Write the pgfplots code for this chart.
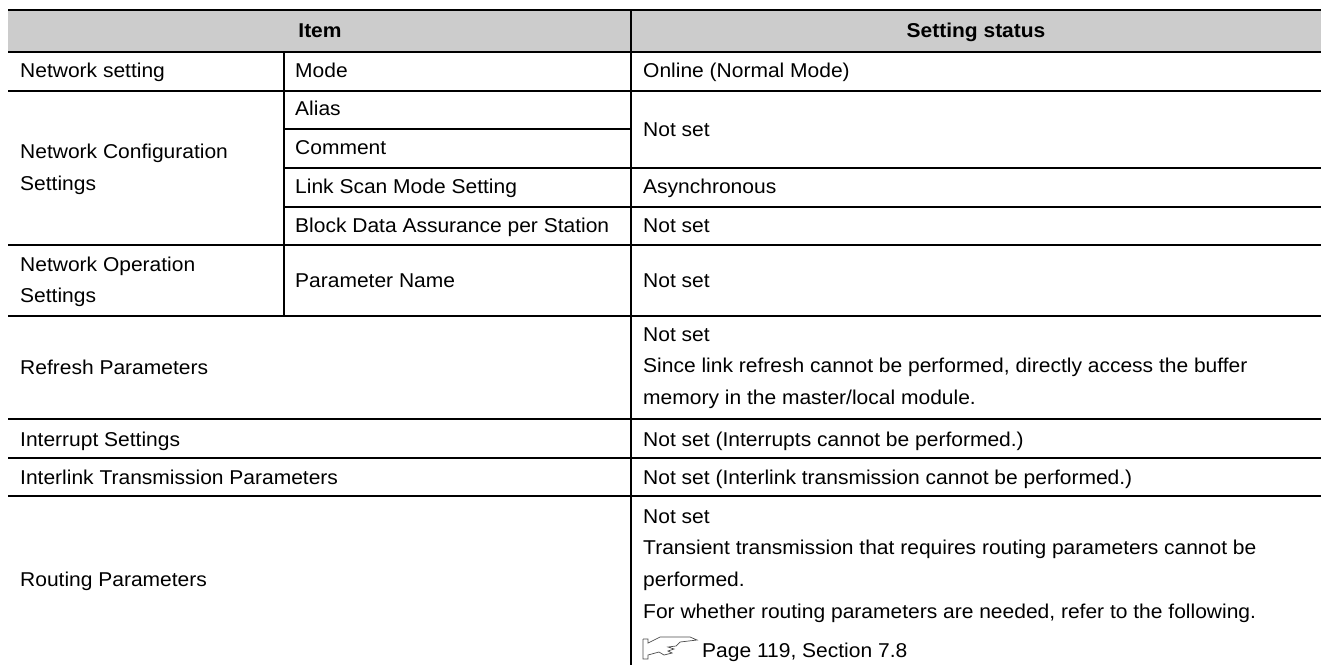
\documentclass[border=0pt]{standalone}
\usepackage{pgfplots}
\pgfplotsset{compat=1.18}
\usepackage{fontspec}
\setmainfont{Liberation Sans}
\newcommand{\tx}[3]{\node[anchor=base west,inner sep=0pt,font=\fontsize{20pt}{22pt}\selectfont] at (axis cs:#1,#2+1.5) {\scalebox{1.05}[1]{#3}};}
\begin{document}
\begin{tikzpicture}
\begin{axis}[name=ax,width=1321pt,height=665pt,scale only axis,hide axis,xmin=0,xmax=1321,ymin=0,ymax=665,y dir=reverse,clip=true]
\addplot[draw=none,fill=black!20,forget plot] coordinates {(8,10)(1321,10)(1321,52)(8,52)(8,10)};
\pgfplotsinvokeforeach{10,52,91,245,316,419,458,496}{\addplot[black,line width=1.9pt,forget plot] coordinates {(8,#1)(1321,#1)};}
\pgfplotsinvokeforeach{168,207}{\addplot[black,line width=1.9pt,forget plot] coordinates {(284,#1)(1321,#1)};}
\addplot[black,line width=1.9pt,forget plot] coordinates {(284,129)(631,129)};
\addplot[black,line width=1.9pt,forget plot] coordinates {(284,52)(284,316)};
\addplot[black,line width=1.9pt,forget plot] coordinates {(631,10)(631,665)};
\addplot[draw=black!70,line width=0.7pt,forget plot] coordinates {(643,639)(648,639)(648,643)(660,637)(690,637)(697,640)(680,642)(676,646)(668,647)(674,649)(668,651)(672,653)(664,655)(659,652)(648,655)(648,659)(643,659)(643,639)};
\node[anchor=base,inner sep=0pt,font=\fontsize{20pt}{22pt}\selectfont\bfseries] at (axis cs:320,37) {\scalebox{1.05}[1]{Item}};
\node[anchor=base,inner sep=0pt,font=\fontsize{20pt}{22pt}\selectfont\bfseries] at (axis cs:976,37) {\scalebox{1.05}[1]{Setting status}};
\tx{20}{76}{Network setting}
\tx{20}{157}{Network Configuration}
\tx{20}{189}{Settings}
\tx{20}{270}{Network Operation}
\tx{20}{301}{Settings}
\tx{20}{373}{Refresh Parameters}
\tx{20}{445}{Interrupt Settings}
\tx{20}{483}{Interlink Transmission Parameters}
\tx{20}{585}{Routing Parameters}
\tx{295}{76}{Mode}
\tx{295}{114}{Alias}
\tx{295}{153}{Comment}
\tx{295}{192}{Link Scan Mode Setting}
\tx{295}{231}{Block Data Assurance per Station}
\tx{295}{286}{Parameter Name}
\tx{643}{76}{Online (Normal Mode)}
\tx{643}{135}{Not set}
\tx{643}{192}{Asynchronous}
\tx{643}{231}{Not set}
\tx{643}{286}{Not set}
\tx{643}{340}{Not set}
\tx{643}{371}{Since link refresh cannot be performed, directly access the buffer}
\tx{643}{403}{memory in the master/local module.}
\tx{643}{445}{Not set (Interrupts cannot be performed.)}
\tx{643}{483}{Not set (Interlink transmission cannot be performed.)}
\tx{643}{522}{Not set}
\tx{643}{553}{Transient transmission that requires routing parameters cannot be}
\tx{643}{585}{performed.}
\tx{643}{617}{For whether routing parameters are needed, refer to the following.}
\tx{702}{656}{Page 119, Section 7.8}
\end{axis}
\path (ax.north west) rectangle (ax.south east);
\end{tikzpicture}
\end{document}
